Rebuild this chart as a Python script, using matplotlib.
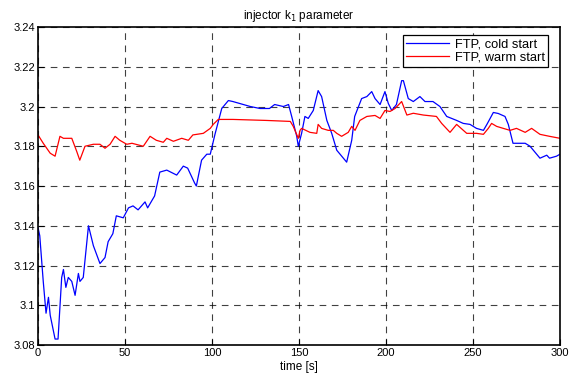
import numpy as np
import matplotlib.pyplot as plt

plt.rcParams['font.family'] = ['Liberation Sans', 'DejaVu Sans']

# cold start trace (time [s], k1)
t_cold = [0, 1, 3, 4.6, 6, 7, 9.8, 11.5, 13.6, 14.6, 16, 17.4, 19.4, 21.3, 23.2, 24.1, 26,
          29, 31.8, 35.6, 38.5, 40.3, 43, 45, 49, 52, 54.6, 57.5, 61.5, 63, 65, 67, 70,
          74, 79.7, 83.5, 86, 90, 91, 94, 97, 99, 101.7, 105.6, 109.4, 112, 122, 127.6,
          133, 136, 141, 144, 145.8, 148.7, 149.6, 151.5, 153.4, 155.3, 158.2, 161, 163,
          166, 168.8, 171.7, 177.4, 180.3, 182, 186, 189, 191.8, 193.7, 196.6, 199.4,
          201.3, 203.3, 206, 209, 210, 212.8, 215.7, 219.5, 222.4, 227, 231, 234.9,
          240.6, 244.4, 248.3, 252, 256, 258, 261.7, 264.5, 268.4, 270.3, 273, 280,
          282.8, 288.5, 292.4, 294, 298, 300]
k_cold = [3.139, 3.135, 3.112, 3.096, 3.104, 3.095, 3.083, 3.083, 3.114, 3.118, 3.109,
          3.114, 3.112, 3.105, 3.116, 3.112, 3.114, 3.140, 3.130, 3.121, 3.124, 3.132,
          3.136, 3.145, 3.144, 3.149, 3.150, 3.148, 3.152, 3.149, 3.152, 3.155, 3.167,
          3.168, 3.1655, 3.170, 3.169, 3.1615, 3.160, 3.173, 3.176, 3.176, 3.186, 3.199,
          3.203, 3.2025, 3.200, 3.199, 3.199, 3.201, 3.200, 3.201, 3.195, 3.185, 3.180,
          3.1865, 3.195, 3.194, 3.198, 3.208, 3.205, 3.193, 3.1865, 3.178, 3.172, 3.183,
          3.195, 3.204, 3.205, 3.2075, 3.204, 3.201, 3.2075, 3.2016, 3.198, 3.201, 3.213,
          3.213, 3.204, 3.2025, 3.205, 3.2025, 3.2025, 3.200, 3.195, 3.193, 3.1915, 3.191,
          3.189, 3.188, 3.191, 3.197, 3.1965, 3.195, 3.191, 3.1815, 3.1815, 3.180, 3.174,
          3.1755, 3.174, 3.175, 3.176]

# warm start trace
t_warm = [0, 3, 7, 9.8, 12.6, 14.6, 19.4, 22.2, 24, 27, 31.8, 35.6, 38.5, 41.4, 44.3, 47,
          51, 54, 60.5, 64.4, 68, 72, 74, 77.8, 82.6, 86.4, 89, 95, 99, 100.7, 103.6,
          112, 131, 145, 146.7, 149.6, 150.6, 151.5, 156.3, 160.2, 161, 163, 166.8,
          169.7, 171.7, 174.5, 178.3, 180.3, 182.2, 185, 189, 193.7, 196.6, 199.4,
          202.3, 205.2, 209, 212, 215.7, 221.5, 229, 232, 236.8, 240.6, 246.4, 252, 256,
          258.8, 260.7, 263.6, 267.4, 271.3, 275, 280, 283.7, 288.5, 294, 300]
k_warm = [3.1857, 3.1815, 3.1765, 3.175, 3.185, 3.184, 3.184, 3.1775, 3.173, 3.180, 3.181,
          3.181, 3.179, 3.181, 3.185, 3.183, 3.181, 3.1815, 3.180, 3.185, 3.183, 3.182,
          3.184, 3.1825, 3.184, 3.183, 3.1857, 3.1865, 3.189, 3.191, 3.1935, 3.1935,
          3.193, 3.1925, 3.190, 3.184, 3.188, 3.189, 3.187, 3.1865, 3.191, 3.189, 3.188,
          3.188, 3.1865, 3.185, 3.187, 3.190, 3.188, 3.193, 3.195, 3.1955, 3.194, 3.198,
          3.1975, 3.199, 3.2025, 3.1957, 3.1966, 3.1957, 3.195, 3.1915, 3.187, 3.191,
          3.1865, 3.1865, 3.186, 3.189, 3.1915, 3.190, 3.189, 3.188, 3.189, 3.187, 3.189,
          3.186, 3.185, 3.184]

yticks = [3.08, 3.1, 3.12, 3.14, 3.16, 3.18, 3.2, 3.22, 3.24]
ylabels = ['3.08', '3.1', '3.12', '3.14', '3.16', '3.18', '3.2', '3.22', '3.24']
xticks = [0, 50, 100, 150, 200, 250, 300]

fig = plt.figure(figsize=(5.77, 3.74), dpi=100)
ax = fig.add_axes([0.0659, 0.0775, 0.9046, 0.8503])

ax.plot(t_cold, k_cold, color='blue', lw=0.9, label='FTP, cold start')
ax.plot(t_warm, k_warm, color='red', lw=0.9, label='FTP, warm start')

ax.set_xlim(0, 300)
ax.set_ylim(3.08, 3.24)
ax.set_xticks(xticks)
ax.set_yticks(yticks)
ax.set_yticklabels(ylabels)
ax.tick_params(direction='in', labelsize=8, length=4, width=0.8, pad=2)
ax.grid(True, color='black', ls=(0, (6, 5)), lw=0.8, alpha=0.75)
for s in ax.spines.values():
    s.set_linewidth(1.2)

ax.set_title('injector k$_1$ parameter', fontsize=8.5, pad=6)
ax.set_xlabel('time [s]', fontsize=8.5, labelpad=2)

# legend corner placed to match the boxed MATLAB legend
leg = ax.legend(loc='upper right', bbox_to_anchor=(0.977, 0.975), borderaxespad=0,
                fontsize=9.3, fancybox=False, framealpha=1, edgecolor='black',
                handlelength=3.3, handletextpad=0.45, borderpad=0.25,
                labelspacing=0.1)
leg.get_frame().set_linewidth(0.9)

fig.savefig('out.png', dpi=100)
